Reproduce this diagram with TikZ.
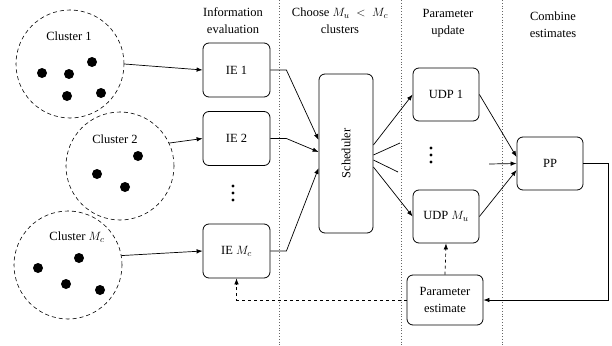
\documentclass[tikz,border=0pt]{standalone}
\usepackage{fontspec}
\setmainfont{Liberation Serif}
\usetikzlibrary{arrows.meta,calc}
\begin{document}
\begin{tikzpicture}[x=1pt,y=-1pt,
  font=\fontsize{12.5}{17}\selectfont,
  every node/.style={inner sep=0pt},
  box/.style={draw,rounded corners=6pt,line width=0.8pt,align=center},
  cluster/.style={draw,dashed,circle,minimum size=108pt,line width=0.6pt,dash pattern=on 4pt off 3pt},
  dotp/.style={fill=black,circle,minimum size=10pt},
  sdot/.style={fill=black,circle,minimum size=3.2pt},
  arr/.style={-{Latex[length=6pt,width=4.5pt]},line width=0.7pt},
  ln/.style={line width=0.7pt},
  sep/.style={dotted,line width=0.8pt,gray!80!black}]
\useasboundingbox (0,0) rectangle (612,345);
% separators
\draw[sep] (279,0) -- (279,345);
\draw[sep] (401,0) -- (401,345);
\draw[sep] (502,0) -- (502,345);
% headers
\node[align=center] (h1) at (233,21) {Information\\evaluation};
\node[align=center] (h2) at (340,21) {Choose $M_u\;<\;M_c$\\clusters};
\node[align=center] (h3) at (448,23) {Parameter\\update};
\node[align=center] (h4) at (553,25) {Combine\\estimates};
% clusters
\node[cluster] (c1) at (70,64) {};
\node (c1l) at (69,36) {Cluster 1};
\node[dotp] (d11) at (42,73) {};
\node[dotp] (d12) at (69,74) {};
\node[dotp] (d13) at (92,62) {};
\node[dotp] (d14) at (67,96) {};
\node[dotp] (d15) at (101,93) {};
\node[cluster] (c2) at (120,166) {};
\node (c2l) at (115,139) {Cluster 2};
\node[dotp] (d21) at (138,156) {};
\node[dotp] (d22) at (97,174) {};
\node[dotp] (d23) at (125,187) {};
\node[cluster] (c3) at (68,265) {};
\node (c3l) at (77,237) {Cluster $M_c$};
\node[dotp] (d31) at (38,268) {};
\node[dotp] (d32) at (79,258) {};
\node[dotp] (d33) at (66,284) {};
\node[dotp] (d34) at (100,290) {};
% IE boxes
\node[box,minimum width=67pt,minimum height=54pt] (ie1) at (236.5,70) {IE 1};
\node[box,minimum width=67pt,minimum height=54pt] (ie2) at (236.5,138.5) {IE 2};
\node[box,minimum width=67pt,minimum height=54pt] (ie3) at (236.5,251) {IE $M_c$};
\node[sdot] (v1) at (233,186) {};
\node[sdot] (v2) at (233,193) {};
\node[sdot] (v3) at (233,200) {};
% scheduler
\node[box,minimum width=54pt,minimum height=159pt] (sch) at (346,153.5) {\rotatebox{90}{Scheduler}};
% UDP
\node[box,minimum width=66pt,minimum height=53pt] (u1) at (446,94.5) {UDP 1};
\node[box,minimum width=66pt,minimum height=53pt] (uM) at (446,216.5) {UDP $M_u$};
\node[sdot] (w1) at (431,148) {};
\node[sdot] (w2) at (431,155) {};
\node[sdot] (w3) at (431,162) {};
% PP
\node[box,minimum width=66pt,minimum height=53pt] (pp) at (550,163.5) {PP};
% parameter estimate
\node[box,minimum width=76pt,minimum height=50pt] (pe) at (445,300) {Parameter\\estimate};
% cluster -> IE
\draw[arr] (c1.east) -- (ie1.west);
\draw[arr] (c2.25) -- (ie2.west);
\draw[arr] (c3.10) -- (ie3.west);
% IE -> scheduler
\draw[arr] (ie1.east) -- ++(16,0) -- ($(sch.west)+(0,-13.5)$);
\draw[arr] (ie2.east) -- ++(16,0) -- ($(sch.west)+(0,-1.5)$);
\draw[arr] (ie3.east) -- ++(16,0) -- ($(sch.west)+(0,14.5)$);
% scheduler -> UDP
\coordinate (f1) at (400,143);
\coordinate (f2) at (398,172);
\draw[arr] ($(sch.east)+(0,-8.5)$) -- (u1.west);
\draw[ln] ($(sch.east)+(0,1.5)$) -- (f1);
\draw[ln] ($(sch.east)+(0,6.5)$) -- (f2);
\draw[arr] ($(sch.east)+(0,13.5)$) -- (uM.west);
% UDP -> PP
\coordinate (g1) at (489,164);
\draw[arr] (u1.east) -- ($(pp.west)+(0,-6.5)$);
\draw[arr] (uM.east) -- ($(pp.west)+(0,6.5)$);
\draw[arr] (g1) -- (pp.west);
% PP -> parameter estimate
\draw[arr] (pp.east) -- (608,163.5) |- (pe.east);
% feedback
\draw[arr,dashed] (pe.north) -- (uM.south);
\draw[arr,dashed] (pe.west) -| (ie3.south);
\end{tikzpicture}
\end{document}
